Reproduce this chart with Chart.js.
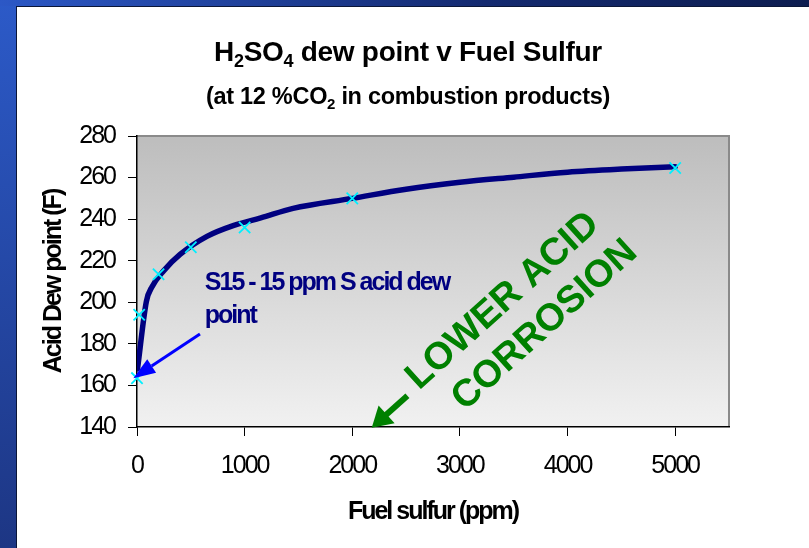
<!DOCTYPE html>
<html>
<head>
<meta charset="utf-8">
<script src="https://cdn.jsdelivr.net/npm/chart.js@4"></script>
<style>
  html, body { margin: 0; padding: 0; }
  body { width: 809px; height: 548px; position: relative; overflow: hidden;
         background: linear-gradient(to bottom, #2c5ac8, #1d3684); }
  #topbar { position: absolute; left: 0; top: 0; width: 809px; height: 6px;
            background: linear-gradient(to right, #2c58c6, #142a70 60%, #0d1d50); }
  #panel { position: absolute; left: 16px; top: 6px; width: 793px; height: 542px;
           background: #0b1638; }
  #wrap { position: absolute; left: 17px; top: 7px; width: 792px; height: 541px; background: #fff; }
</style>
</head>
<body>
<div id="topbar"></div>
<div id="panel"></div>
<div id="wrap"><canvas id="dewChart" width="792" height="541"></canvas></div>
<script>
// calculated dew point curve
const curveSulfur = [5, 87, 140, 245, 400, 650, 900, 1150, 1450, 2000, 2500, 3000, 3500, 4000, 4500, 5000];
const curveDew = [168, 200.4, 207.5, 215, 223, 231.7, 237, 240.6, 245.2, 250, 254.4, 257.7, 260.2, 262.6, 264.1, 265.2];
// marked points
const markSulfur = [0, 20, 200, 500, 1000, 2000, 5000];
const markDew = [163.5, 194, 213.5, 226.5, 236, 250, 264.6];
const yTicks = [140, 160, 180, 200, 220, 240, 260, 280];
const xTicks = [0, 1000, 2000, 3000, 4000, 5000];

const FONT = "'Liberation Sans', Arial, sans-serif";

const pairs = (xs, ys) => xs.map((x, i) => ({ x: x, y: ys[i] }));

const slidePlugin = {
  id: 'slide',
  beforeDraw(chart) {
    const { ctx, chartArea: a } = chart;
    const g = ctx.createLinearGradient(0, a.top, 0, a.bottom);
    g.addColorStop(0, '#bdbdbd');
    g.addColorStop(1, '#f1f1f1');
    ctx.save();
    ctx.fillStyle = g;
    ctx.fillRect(a.left, a.top, a.right - a.left, a.bottom - a.top);
    ctx.strokeStyle = '#8a8a8a';
    ctx.lineWidth = 2;
    ctx.beginPath();
    ctx.moveTo(a.left, a.top);
    ctx.lineTo(a.right, a.top);
    ctx.lineTo(a.right, a.bottom);
    ctx.stroke();
    ctx.restore();
    ctx.letterSpacing = '-2px';
  },
  afterDraw(chart) {
    const { ctx, chartArea: a, scales } = chart;
    const xs = scales.x, ys = scales.y;
    ctx.save();

    // title with subscripts
    const cx = 391;
    const drawRich = (parts, size, baseY) => {
      ctx.textBaseline = 'alphabetic';
      ctx.textAlign = 'left';
      let w = 0;
      parts.forEach(p => {
        ctx.font = 'bold ' + (p.sub ? Math.round(size * 0.65) : size) + 'px ' + FONT;
        w += ctx.measureText(p.t).width;
      });
      let x = cx - w / 2;
      parts.forEach(p => {
        ctx.font = 'bold ' + (p.sub ? Math.round(size * 0.65) : size) + 'px ' + FONT;
        ctx.fillStyle = '#000';
        ctx.fillText(p.t, x, baseY + (p.sub ? size * 0.2 : 0));
        x += ctx.measureText(p.t).width;
      });
    };
    ctx.letterSpacing = '-0.3px';
    drawRich([{ t: 'H' }, { t: '2', sub: true }, { t: 'SO' }, { t: '4', sub: true }, { t: ' dew point v Fuel Sulfur' }], 28, 54);
    drawRich([{ t: '(at 12 %CO' }, { t: '2', sub: true }, { t: ' in combustion products)' }], 23.5, 97);

    // S15 annotation
    ctx.letterSpacing = '-2px';
    ctx.font = 'bold 25px ' + FONT;
    ctx.fillStyle = '#000080';
    ctx.textAlign = 'left';
    ctx.textBaseline = 'alphabetic';
    const tx = xs.getPixelForValue(630), ty = ys.getPixelForValue(206);
    ctx.fillText('S15 - 15 ppm S acid dew', tx, ty);
    ctx.fillText('point', tx, ty + 33);

    // blue arrow to the 15 ppm point
    const x0 = xs.getPixelForValue(585), y0 = ys.getPixelForValue(184.8);
    const x1 = xs.getPixelForValue(-34), y1 = ys.getPixelForValue(163.5);
    const ang = Math.atan2(y1 - y0, x1 - x0);
    const hl = 22, hw = 8;
    const bx = x1 - hl * Math.cos(ang), by = y1 - hl * Math.sin(ang);
    ctx.strokeStyle = '#0000ff';
    ctx.fillStyle = '#0000ff';
    ctx.lineWidth = 3;
    ctx.beginPath();
    ctx.moveTo(x0, y0);
    ctx.lineTo(bx, by);
    ctx.stroke();
    ctx.beginPath();
    ctx.moveTo(x1, y1);
    ctx.lineTo(bx + hw * Math.sin(ang), by - hw * Math.cos(ang));
    ctx.lineTo(bx - hw * Math.sin(ang), by + hw * Math.cos(ang));
    ctx.closePath();
    ctx.fill();

    // rotated green note
    const gx = xs.getPixelForValue(2620), gy = ys.getPixelForValue(157.5);
    ctx.translate(gx, gy);
    ctx.rotate(-42 * Math.PI / 180);
    ctx.letterSpacing = '0px';
    ctx.font = 'bold 38px ' + FONT;
    ctx.fillStyle = '#008000';
    ctx.fillText('LOWER ACID', 0, 0);
    ctx.fillText('CORROSION', 20, 46);
    // arrow in front of the text
    ctx.strokeStyle = '#008000';
    ctx.lineWidth = 6;
    ctx.beginPath();
    ctx.moveTo(-12, -4);
    ctx.lineTo(-44, -4);
    ctx.stroke();
    ctx.beginPath();
    ctx.moveTo(-60, -4);
    ctx.lineTo(-40, -16);
    ctx.lineTo(-40, 8);
    ctx.closePath();
    ctx.fill();
    ctx.restore();
    ctx.letterSpacing = '0px';
  }
};

new Chart(document.getElementById('dewChart').getContext('2d'), {
  type: 'scatter',
  data: {
    datasets: [{
      label: 'points',
      data: pairs(markSulfur, markDew),
      showLine: false,
      pointStyle: 'crossRot',
      pointRadius: 8,
      borderWidth: 1.8,
      borderColor: '#00f0ff',
      backgroundColor: '#00f0ff',
      clip: false
    }, {
      label: 'dew point',
      data: pairs(curveSulfur, curveDew),
      showLine: true,
      borderColor: '#000080',
      borderWidth: 5.5,
      pointRadius: 0,
      cubicInterpolationMode: 'monotone',
      borderCapStyle: 'round',
      borderJoinStyle: 'round'
    }]
  },
  options: {
    responsive: false,
    animation: false,
    events: [],
    layout: { padding: { top: 129, right: 80, left: 0, bottom: 0 } },
    plugins: { legend: { display: false }, tooltip: { enabled: false } },
    scales: {
      x: {
        type: 'linear',
        min: 0,
        max: 5500,
        afterFit(s) { s.height = 121; },
        afterBuildTicks(s) { s.ticks = xTicks.map(v => ({ value: v })); },
        grid: { drawOnChartArea: false, drawTicks: true, tickLength: 9, color: '#000' },
        border: { display: true, color: '#000', width: 1.5 },
        ticks: { color: '#000', padding: 15, font: { family: FONT, size: 25 }, callback: v => String(v) },
        title: {
          display: true, text: 'Fuel sulfur (ppm)', color: '#000',
          font: { family: FONT, size: 25, weight: 'bold' },
          padding: { top: 0, bottom: 21 }
        }
      },
      y: {
        min: 140,
        max: 280,
        afterFit(s) { s.width = 120; },
        afterBuildTicks(s) { s.ticks = yTicks.map(v => ({ value: v })); },
        grid: { drawOnChartArea: false, drawTicks: true, tickLength: 9, color: '#000' },
        border: { display: true, color: '#000', width: 1.5 },
        ticks: { color: '#000', padding: 13, font: { family: FONT, size: 25 }, callback: v => String(v) },
        title: {
          display: true, text: 'Acid Dew point (F)', color: '#000',
          font: { family: FONT, size: 25, weight: 'bold' },
          padding: { top: 22, bottom: 0 }
        }
      }
    }
  },
  plugins: [slidePlugin]
});
</script>
</body>
</html>
